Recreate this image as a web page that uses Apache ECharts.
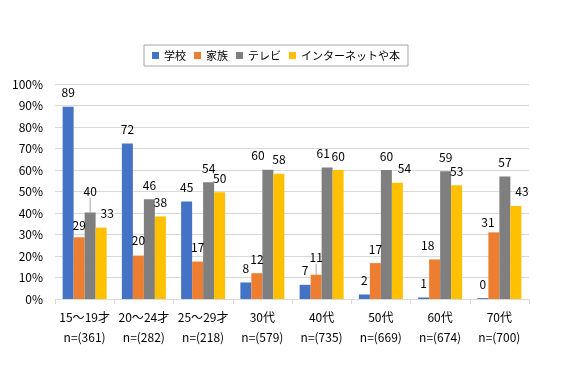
<!DOCTYPE html>
<html><head><meta charset="utf-8">
<script src="https://cdn.jsdelivr.net/npm/echarts@6/dist/echarts.min.js"></script>
<style>html,body{margin:0;padding:0;background:#fff}#c{width:567px;height:378px}</style>
</head><body><div id="c"></div>
<script>
var categories = ['15～19才','20～24才','25～29才','30代','40代','50代','60代','70代'];
var sampleSizes = ['n=(361)','n=(282)','n=(218)','n=(579)','n=(735)','n=(669)','n=(674)','n=(700)'];
var seriesNames = ['学校','家族','テレビ','インターネットや本'];
var school = [89.4, 72.3, 45.4, 7.7, 6.6, 2.1, 0.7, 0.4];
var family = [28.7, 20.2, 17.4, 12.0, 11.3, 16.7, 18.4, 31.0];
var tv = [40.2, 46.4, 54.3, 60.1, 61.2, 60.0, 59.4, 57.0];
var net = [33.2, 38.4, 49.7, 58.2, 60.0, 54.1, 52.9, 43.3];
var yTicks = [0,10,20,30,40,50,60,70,80,90,100];
var colors = ['#4472C4','#ED7D31','#7F7F7F','#FFC000'];

var font = '"Noto Sans CJK JP", sans-serif';
var values = [school, family, tv, net];
// label nudges (series index, category index) -> [dx, dy], mimicking manually moved labels
var nudges = {
  '1-0': [0, 2], '2-0': [0, -7], '3-0': [6, 0],
  '1-1': [0, -1.5],
  '2-3': [-10, 0],
  '2-4': [-4, 0], '1-4': [0, -3],
  '3-5': [7, 0],
  '1-6': [-7, 0],
  '1-7': [-6, 4.5], '3-7': [6, 0]
};
var guided = {'2-0': true, '1-4': true};

var chart = echarts.init(document.getElementById('c'));
chart.setOption({
  animation: false,
  color: colors,
  legend: {
    data: seriesNames, left: 144, top: 45, itemWidth: 7, itemHeight: 7, itemGap: 8,
    borderColor: '#a6a6a6', borderWidth: 1, padding: [5, 8],
    textStyle: {fontFamily: font, fontSize: 11, color: '#000'}, icon: 'rect'
  },
  grid: {left: 55, right: 38, top: 84, bottom: 79},
  xAxis: {
    type: 'category', data: categories.map(function(c,i){return c + '\n' + sampleSizes[i];}),
    axisLine: {lineStyle: {color: '#d9d9d9'}},
    axisTick: {show: true, length: 5, lineStyle: {color: '#d9d9d9'}},
    axisLabel: {interval: 0, fontFamily: font, fontSize: 12, color: '#000', lineHeight: 20, margin: 8}
  },
  yAxis: {
    type: 'value', min: yTicks[0], max: yTicks[yTicks.length-1], interval: 10,
    axisLabel: {formatter: '{value}%', fontFamily: font, fontSize: 12, color: '#000', margin: 12},
    splitLine: {lineStyle: {color: '#d9d9d9'}},
    axisLine: {show: false}, axisTick: {show: false}
  },
  series: seriesNames.map(function(n, k){
    return {
      name: n, type: 'bar', barWidth: 11, barGap: '0%',
      data: values[k].map(function(v, i){
        var item = {value: v};
        if (guided[k + '-' + i]) item.labelLine = {show: true};
        return item;
      }),
      label: {show: true, position: 'top', distance: 8, fontFamily: font, fontSize: 12, color: '#000',
        formatter: function(p){return Math.round(p.value);}},
      labelLine: {show: false, lineStyle: {color: '#a6a6a6', width: 1}},
      labelLayout: function(p){
        var d = nudges[k + '-' + p.dataIndex];
        return d ? {dx: d[0], dy: d[1]} : {};
      }
    };
  })
});
</script></body></html>
